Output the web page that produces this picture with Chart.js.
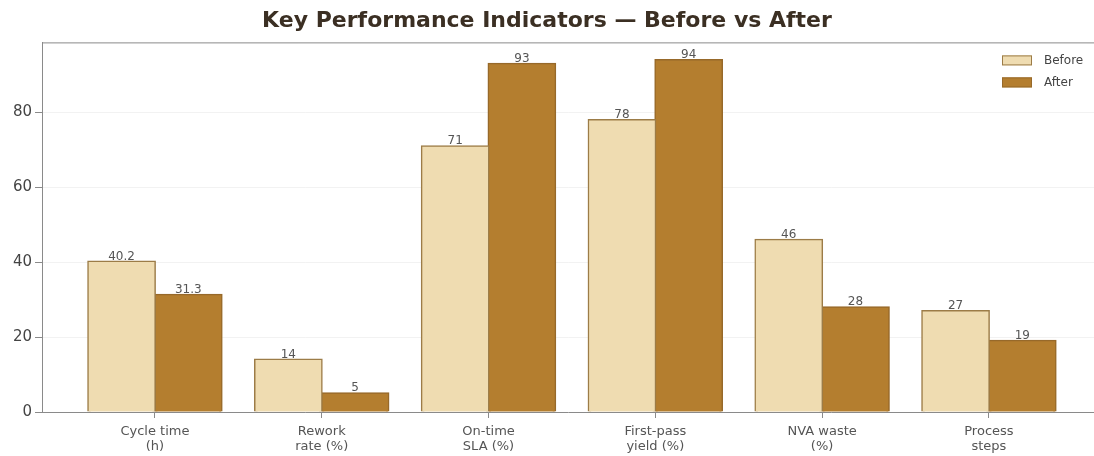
<!DOCTYPE html>
<html>
<head>
<meta charset="utf-8">
<title>Key Performance Indicators</title>
<script src="https://cdn.jsdelivr.net/npm/chart.js@4/dist/chart.umd.min.js"></script>
<style>
  html, body { margin: 0; padding: 0; background: #fff; }
  #wrap { width: 1094px; height: 456px; }
</style>
</head>
<body>
<div id="wrap"><canvas id="kpiChart"></canvas></div>
<script>
// KPI categories (two-line tick labels)
const categories = [
    ['Cycle time', '(h)'],
    ['Rework', 'rate (%)'],
    ['On-time', 'SLA (%)'],
    ['First-pass', 'yield (%)'],
    ['NVA waste', '(%)'],
    ['Process', 'steps']
];
const beforeValues = [40.2, 14, 71, 78, 46, 27];
const afterValues = [31.3, 5, 93, 94, 28, 19];
const yTicks = [0, 20, 40, 60, 80];

const FONT = "'DejaVu Sans', 'Liberation Sans', sans-serif";
const AXIS_COLOR = '#8a8a8a';

// bars sit on integer x positions of a linear axis
function toPoints(values) {
    return values.map((v, i) => ({ x: i, y: v }));
}

// value labels, legend box and top spine
const extrasPlugin = {
    id: 'extras',
    afterDatasetsDraw(chart) {
        const ctx = chart.ctx;
        const area = chart.chartArea;
        ctx.save();

        // top spine
        ctx.strokeStyle = AXIS_COLOR;
        ctx.lineWidth = 1;
        ctx.beginPath();
        ctx.moveTo(area.left, area.top + 0.5);
        ctx.lineTo(area.right, area.top + 0.5);
        ctx.stroke();

        // numbers on top of bars
        ctx.font = '12px ' + FONT;
        ctx.fillStyle = '#555';
        ctx.textAlign = 'center';
        ctx.textBaseline = 'bottom';
        chart.data.datasets.forEach((ds, di) => {
            const meta = chart.getDatasetMeta(di);
            meta.data.forEach((bar, i) => {
                ctx.fillText(String(ds.data[i].y), bar.x, bar.y + 1);
            });
        });

        // legend in the upper right corner
        const boxX = area.right - 92;
        const textX = boxX + 42;
        ctx.font = '12px ' + FONT;
        ctx.textAlign = 'left';
        ctx.textBaseline = 'middle';
        chart.data.datasets.forEach((ds, di) => {
            const cy = area.top + 18 + di * 22;
            ctx.fillStyle = ds.backgroundColor;
            ctx.fillRect(boxX, cy - 5, 30, 10);
            ctx.strokeStyle = ds.borderColor;
            ctx.lineWidth = 1;
            ctx.strokeRect(boxX + 0.5, cy - 4.5, 29, 9);
            ctx.fillStyle = '#444';
            ctx.fillText(ds.label, textX, cy);
        });

        ctx.restore();
    }
};

const ctx = document.getElementById('kpiChart').getContext('2d');
const chart = new Chart(ctx, {
    type: 'bar',
    data: {
        datasets: [{
            label: 'Before',
            data: toPoints(beforeValues),
            backgroundColor: '#efdcb1',
            borderColor: '#9c7c47',
            borderWidth: 1.5,
            inflateAmount: 1,
            categoryPercentage: 0.8,
            barPercentage: 1.0
        }, {
            label: 'After',
            data: toPoints(afterValues),
            backgroundColor: '#b47e2f',
            borderColor: '#97692a',
            borderWidth: 1.5,
            inflateAmount: 1,
            categoryPercentage: 0.8,
            barPercentage: 1.0
        }]
    },
    options: {
        responsive: true,
        maintainAspectRatio: false,
        animation: false,
        layout: { padding: { left: 0, right: 0, top: 0, bottom: 0 } },
        plugins: {
            legend: { display: false },
            tooltip: { enabled: false },
            title: {
                display: true,
                text: 'Key Performance Indicators \u2014 Before vs After',
                color: '#3b2f23',
                font: { family: FONT, size: 22, weight: 'bold' },
                padding: { top: 8, bottom: 8 }
            }
        },
        scales: {
            x: {
                type: 'linear',
                min: -0.677,
                max: 5.63,
                offset: false,
                afterBuildTicks(scale) {
                    scale.ticks = categories.map((c, i) => ({ value: i }));
                },
                afterFit(scale) {
                    scale.height = 44;
                },
                ticks: {
                    color: '#555',
                    font: { family: FONT, size: 13, lineHeight: 1.15 },
                    padding: 6,
                    maxRotation: 0,
                    autoSkip: false,
                    callback(value) {
                        return categories[value] || '';
                    }
                },
                grid: {
                    offset: false,
                    drawOnChartArea: false,
                    drawTicks: true,
                    tickLength: 6,
                    tickColor: AXIS_COLOR
                },
                border: { display: true, color: AXIS_COLOR, width: 1 }
            },
            y: {
                min: 0,
                max: 98.7,
                afterBuildTicks(scale) {
                    scale.ticks = yTicks.map(v => ({ value: v }));
                },
                afterFit(scale) {
                    scale.width = 42;
                },
                ticks: {
                    color: '#444',
                    font: { family: FONT, size: 15 },
                    padding: 3
                },
                grid: {
                    color: 'rgba(0,0,0,0.05)',
                    tickColor: AXIS_COLOR,
                    tickLength: 7
                },
                border: { display: true, color: AXIS_COLOR, width: 1 }
            }
        }
    },
    plugins: [extrasPlugin]
});
</script>
</body>
</html>
